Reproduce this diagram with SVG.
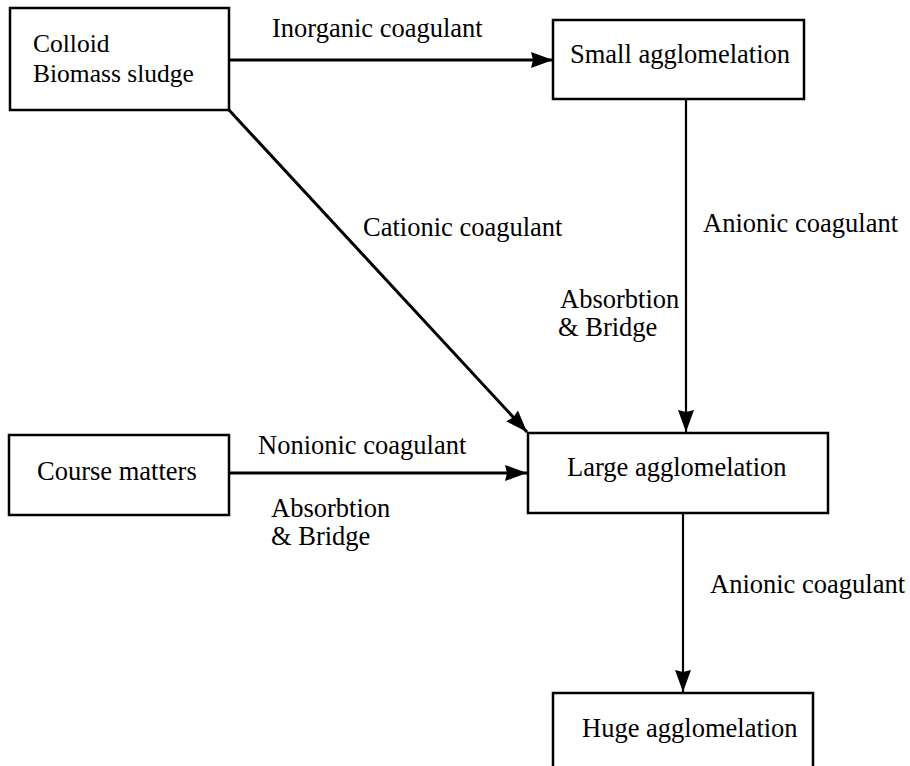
<svg xmlns="http://www.w3.org/2000/svg" width="910" height="766" viewBox="0 0 910 766">
  <style>
    .box { fill: #fff; stroke: #000; stroke-width: 2.5; }
    .conn { stroke: #000; fill: none; }
    .thick { stroke-width: 3; }
    .thin { stroke-width: 2.2; }
  </style>
  <defs>
    <marker id="arrow" markerUnits="userSpaceOnUse" markerWidth="24" markerHeight="18" refX="22" refY="8" orient="auto">
      <path d="M0,0 L22,8 L0,16 L2,8 Z" fill="#000"/>
    </marker>
  </defs>
  <rect width="910" height="766" fill="#fff"/>

  <!-- connectors -->
  <g id="connectors">
    <line class="conn thick" x1="229" y1="60" x2="553" y2="60" marker-end="url(#arrow)"/>
    <line class="conn thick" x1="229" y1="110" x2="527" y2="432" marker-end="url(#arrow)"/>
    <line class="conn thin" x1="686" y1="99" x2="686" y2="432" marker-end="url(#arrow)"/>
    <line class="conn thick" x1="229" y1="473" x2="527" y2="473" marker-end="url(#arrow)"/>
    <line class="conn thin" x1="683" y1="513" x2="683" y2="692" marker-end="url(#arrow)"/>
  </g>

  <g font-family="Liberation Serif, DejaVu Serif, serif" font-size="26.5" fill="#000">
    <!-- connector labels -->
    <g id="labels">
      <text x="272" y="37">Inorganic coagulant</text>
      <text x="363" y="236">Cationic coagulant</text>
      <text x="703" y="232">Anionic coagulant</text>
      <text x="560" y="308">Absorbtion</text>
      <text x="558" y="336">&amp; Bridge</text>
      <text x="258" y="454">Nonionic coagulant</text>
      <text x="271" y="517">Absorbtion</text>
      <text x="271" y="545">&amp; Bridge</text>
      <text x="710" y="593">Anionic coagulant</text>
    </g>

    <!-- nodes -->
    <g id="colloid" font-size="25.5">
      <rect class="box" x="10" y="8" width="219" height="102"/>
      <text x="33" y="52">Colloid</text>
      <text x="33" y="82">Biomass sludge</text>
    </g>
    <g id="small">
      <rect class="box" x="553" y="20" width="251" height="79"/>
      <text x="570" y="63">Small agglomelation</text>
    </g>
    <g id="course">
      <rect class="box" x="9" y="435" width="220" height="80"/>
      <text x="37" y="480">Course matters</text>
    </g>
    <g id="large">
      <rect class="box" x="528" y="433" width="300" height="80"/>
      <text x="567" y="476">Large agglomelation</text>
    </g>
    <g id="huge">
      <rect class="box" x="553" y="693" width="260" height="90"/>
      <text x="582" y="737">Huge agglomelation</text>
    </g>
  </g>
</svg>
